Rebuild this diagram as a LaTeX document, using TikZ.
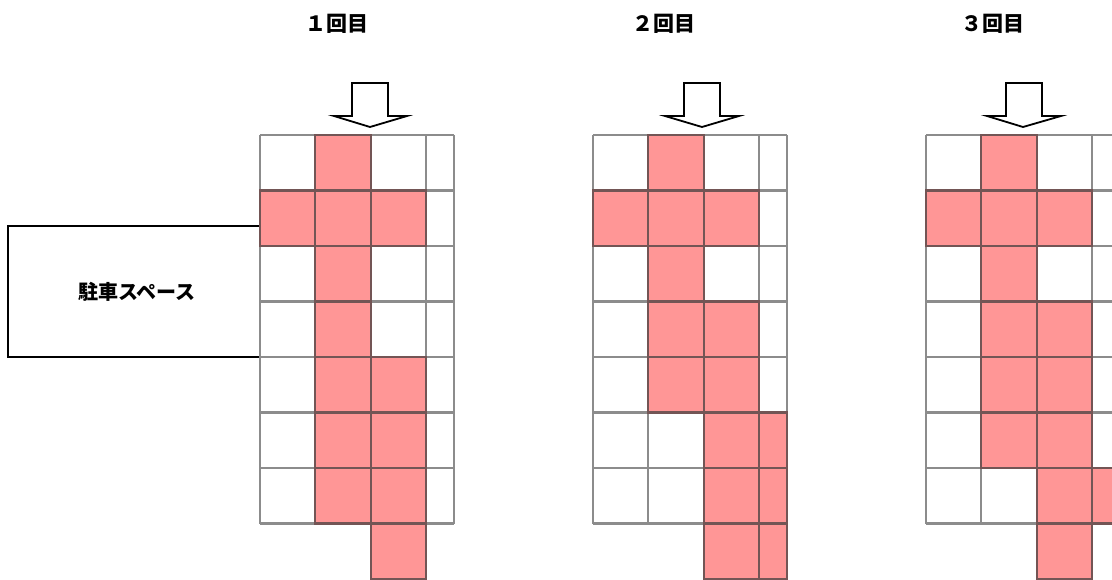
\documentclass[tikz,border=0pt]{standalone}
\usepackage{fontspec}
\newfontfamily\jp{Noto Sans CJK JP}
\definecolor{pinkc}{RGB}{255,150,150}
\definecolor{gridc}{RGB}{140,140,140}
\definecolor{pinkedge}{RGB}{115,85,85}
\tikzset{
  cellfill/.style={fill=pinkc},
  gridline/.style={draw=gridc,line width=2.2pt},
  pinkline/.style={draw=pinkedge,line width=2.2pt},
  downarrow/.style={draw=black,fill=white,line width=1.8pt,line join=miter},
  title/.style={font=\jp\bfseries\fontsize{21}{21}\selectfont,inner sep=0pt},
  parktext/.style={font=\jp\bfseries\fontsize{20}{20}\selectfont,inner sep=0pt},
}
% #1 = left x, #2 = list of pink cells col/row
\newcommand\drawmygrid[2]{%
  \foreach \c/\r in {#2}{%
    \pgfmathsetmacro\w{\c==3 ? 28 : 55.3}%
    \fill[cellfill] ({#1+\c*55.3},{135+\r*55.5}) rectangle ++(\w,55.5);
  }%
  \foreach \xx in {0,55.3,110.6,165.9,193.9}{%
    \draw[gridline] ({#1+\xx},135) -- ({#1+\xx},523.5);
  }%
  \foreach \r in {0,...,7}{%
    \draw[gridline] (#1,{135+\r*55.5}) -- ({#1+193.9},{135+\r*55.5});
  }%
  \foreach \c/\r in {#2}{%
    \pgfmathsetmacro\w{\c==3 ? 28 : 55.3}%
    \draw[pinkline] ({#1+\c*55.3},{135+\r*55.5}) rectangle ++(\w,55.5);
  }%
}
\begin{document}
\begin{tikzpicture}[x=1pt,y=-1pt]
\useasboundingbox (0,0) rectangle (1112,579);
\clip (0,0) rectangle (1112,579);

% titles
\node[title] (t1) at (337,24) {１回目};
\node[title] (t2) at (664,24) {２回目};
\node[title] (t3) at (993,24) {３回目};

% parking space
\node[draw=black,line width=1.8pt,minimum width=252pt,minimum height=131pt,inner sep=0pt] (park) at (134,291.5) {};
\node[parktext] (parklabel) at (137,292) {駐車スペース};

% grids
\drawmygrid{260}{1/0,0/1,1/1,2/1,1/2,1/3,1/4,2/4,1/5,2/5,1/6,2/6,2/7}
\drawmygrid{593}{1/0,0/1,1/1,2/1,1/2,1/3,2/3,1/4,2/4,2/5,3/5,2/6,3/6,2/7,3/7}
\drawmygrid{926}{1/0,0/1,1/1,2/1,1/2,1/3,2/3,1/4,2/4,1/5,2/5,2/6,3/6,2/7}

% arrows
\draw[downarrow] (352,83) -- (388,83) -- (388,116) -- (407,116) -- (370,127) -- (334,116) -- (352,116) -- cycle;
\draw[downarrow] (684,83) -- (720,83) -- (720,116) -- (739,116) -- (702,127) -- (665,116) -- (684,116) -- cycle;
\draw[downarrow] (1006,83) -- (1042,83) -- (1042,116) -- (1061,116) -- (1023,127) -- (987,116) -- (1006,116) -- cycle;
\end{tikzpicture}
\end{document}
